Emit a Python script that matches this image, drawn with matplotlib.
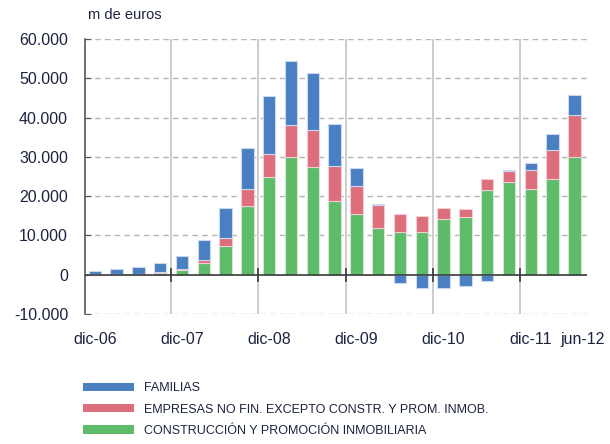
import numpy as np
import matplotlib
matplotlib.use("Agg")
import matplotlib.pyplot as plt
from matplotlib.patches import Patch
import matplotlib.transforms as mtransforms

plt.rcParams["font.family"] = ["Liberation Sans", "DejaVu Sans"]

# Quarterly data, dic-06 .. jun-12 (m de euros)
periods = ["dic-06", "mar-07", "jun-07", "sep-07", "dic-07", "mar-08", "jun-08", "sep-08",
           "dic-08", "mar-09", "jun-09", "sep-09", "dic-09", "mar-10", "jun-10", "sep-10",
           "dic-10", "mar-11", "jun-11", "sep-11", "dic-11", "mar-12", "jun-12"]
construccion = [0, 50, 100, 420, 1280, 2980, 7320, 17530, 24770, 29960, 27400, 18810,
                15320, 11910, 10980, 10890, 14130, 14640, 21620, 23570, 21790, 24340, 29870]
empresas = [50, 200, 150, 340, 250, 850, 2130, 4170, 5950, 8170, 9370, 8760,
            7320, 5790, 4510, 4000, 2890, 1960, 2640, 2810, 4850, 7320, 10810]
familias = [970, 1280, 1790, 2220, 3150, 5020, 7570, 10560, 14810, 16340, 14550, 10900,
            4590, 260, -2130, -3320, -3400, -2890, -1530, 340, 1790, 4080, 5020]

label_idx = [0, 4, 8, 12, 16, 20, 22]
yticks = [-10000, 0, 10000, 20000, 30000, 40000, 50000, 60000]

c_blue, c_red, c_green = "#4a7fc2", "#dd6e7c", "#5dbb6a"
e_blue, e_red, e_green = "#c9daf0", "#f3cdd3", "#cfeacf"

fig = plt.figure(figsize=(6.1, 4.44), dpi=100)
ax = fig.add_axes([0.139, 0.293, 0.823, 0.619])

x = np.arange(len(periods))
g = np.array(construccion)
r = np.array(empresas)
b = np.array(familias)
w = 0.57

ax.bar(x, g, w, color=c_green, edgecolor=e_green, linewidth=0.8, zorder=3)
ax.bar(x, r, w, bottom=g, color=c_red, edgecolor=e_red, linewidth=0.8, zorder=3)
ax.bar(x, b, w, bottom=np.where(b >= 0, g + r, 0), color=c_blue, edgecolor=e_blue,
       linewidth=0.8, zorder=3)

ax.set_xlim(-0.46, 22.57)
ax.set_ylim(-10000, 60000)

# grid
for yv in yticks:
    if yv != 0:
        ax.axhline(yv, color="#b5b5b5", lw=1, ls=(0, (4, 3)), zorder=1)
sep = [i - 0.5 for i in label_idx[1:-1]]
for xv in sep:
    ax.axvline(xv, color="#c4c4c4", lw=1.2, zorder=1)
ax.axhline(0, color="#3a3a3a", lw=1.2, zorder=4)
ax.plot(sep, [0] * len(sep), ls="none", marker="|", markersize=10, mew=1.2,
        color="#3a3a3a", zorder=5)

for s in ["top", "right", "bottom"]:
    ax.spines[s].set_visible(False)
ax.spines["left"].set_color("#555555")
ax.spines["left"].set_linewidth(1.2)

ax.set_yticks(yticks)
ax.set_yticklabels([f"{v:,}".replace(",", ".") for v in yticks])
ax.tick_params(axis="y", direction="in", length=4, color="#555555", labelsize=11.5,
               labelcolor="#1c2340", pad=12)

ax.set_xticks(label_idx)
ax.set_xticklabels([periods[i] for i in label_idx])
ax.tick_params(axis="x", length=0, labelsize=11.5, labelcolor="#1c2340", pad=13)
# shift the last label right a bit as in the original
lbl = ax.get_xticklabels()[-1]
lbl.set_transform(lbl.get_transform() + mtransforms.ScaledTranslation(6 / 72, 0, fig.dpi_scale_trans))

fig.text(0.145, 0.966, "m de euros", fontsize=10.5, color="#1c2340", ha="left", va="center")

handles = [Patch(facecolor=c_blue), Patch(facecolor=c_red), Patch(facecolor=c_green)]
labels = ["FAMILIAS", "EMPRESAS NO FIN. EXCEPTO CONSTR. Y PROM. INMOB.",
          "CONSTRUCCIÓN Y PROMOCIÓN INMOBILIARIA"]
fig.legend(handles, labels, loc="upper left", bbox_to_anchor=(0.136, 0.139),
           frameon=False, handlelength=4.1, handleheight=0.65, labelspacing=0.75,
           handletextpad=0.75, borderaxespad=0, borderpad=0,
           prop={"family": ["Liberation Sans Narrow", "Liberation Sans"], "size": 9},
           labelcolor="#1c2340")

fig.savefig("out.png", dpi=100)
